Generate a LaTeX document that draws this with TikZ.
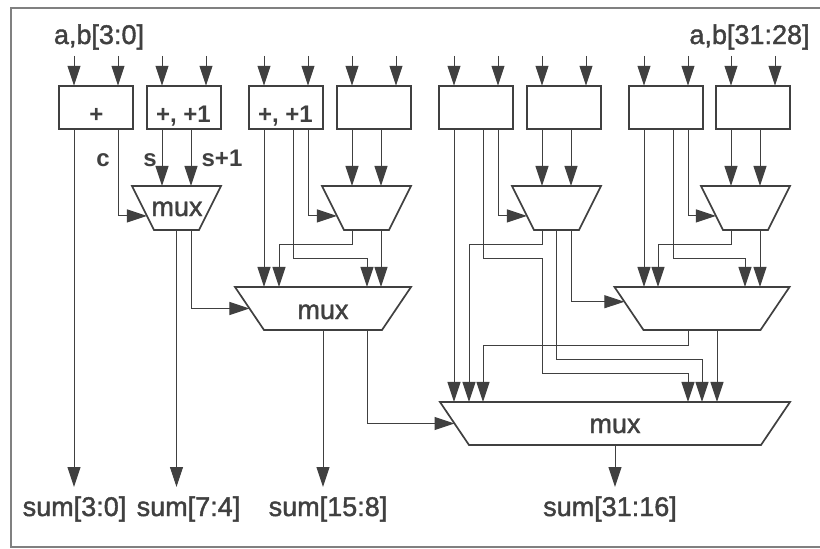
\documentclass[tikz,border=0pt]{standalone}
\usepackage{fontspec}
\setmainfont{Liberation Sans}
\usetikzlibrary{arrows.meta,shapes.geometric}
\definecolor{inkgray}{HTML}{404040}
\tikzset{
	addbox/.style={draw=inkgray,line width=2pt,rectangle,minimum width=74pt,minimum height=43.5pt,inner sep=0pt,outer sep=0pt},
	muxsmall/.style={draw=inkgray,line width=1.7pt,trapezium,shape border rotate=180,trapezium left angle=63.4,trapezium right angle=63.4,text width=45pt,text height=44pt,text depth=0pt,inner sep=0pt,outer sep=0pt},
	muxbig/.style={draw=inkgray,line width=1.7pt,trapezium,shape border rotate=180,trapezium left angle=56,trapezium right angle=56,text height=43pt,text depth=0pt,inner sep=0pt,outer sep=0pt},
	wire/.style={draw=inkgray,line width=1pt,-{Triangle[length=20pt,width=13pt]}},
	lbl/.style={font=\fontsize{27}{27}\selectfont\addfontfeature{FakeBold=1.5},text=inkgray,anchor=base,inner sep=0pt},
	lblsmall/.style={font=\bfseries\fontsize{24}{24}\selectfont,text=inkgray,anchor=base,inner sep=0pt}
}
\begin{document}
\begin{tikzpicture}[x=1pt,y=-1pt]
	\useasboundingbox (0,0) rectangle (820,549);
	\fill[white] (0,0) rectangle (820,549);
	\draw[draw=gray,line width=1.3pt] (820,8) -- (11,8) -- (11,547) -- (820,547);

	\node[lbl] (inlow) at (99,44) {a,b[3:0]};
	\node[lbl] (inhigh) at (749.5,44) {a,b[31:28]};

	\node[addbox] (add1) at (96,107.5) {};
	\node[addbox] (add2) at (184,107.5) {};
	\node[addbox] (add3) at (286,107.5) {};
	\node[addbox] (add4) at (374,107.5) {};
	\node[addbox] (add5) at (476,107.5) {};
	\node[addbox] (add6) at (564,107.5) {};
	\node[addbox] (add7) at (666,107.5) {};
	\node[addbox] (add8) at (753,107.5) {};
	\node[lblsmall] (plus1) at (96.5,122) {+};
	\node[lblsmall] (plus2) at (183.5,122) {+, +1};
	\node[lblsmall] (plus3) at (285.5,122) {+, +1};

	\node[muxsmall] (mux1) at (176.5,208) {};
	\node[muxsmall] (mux2) at (366.5,208) {};
	\node[muxsmall] (mux5) at (556.5,208) {};
	\node[muxsmall] (mux7) at (745.5,208) {};
	\node[muxbig,text width=118pt] (mux3) at (323,308.5) {};
	\node[muxbig,text width=117pt] (mux6) at (702,308.5) {};
	\node[muxbig,text width=292pt] (mux4) at (615,423.5) {};
	\node[lbl] (muxa) at (177,216) {mux};
	\node[lbl] (muxb) at (323,319) {mux};
	\node[lbl] (muxc) at (615,433) {mux};

	\node[lblsmall] (carry) at (103,166) {c};
	\node[lblsmall] (sbit) at (150,166) {s};
	\node[lblsmall] (splus) at (222,166) {s+1};

	\node[lbl] (sum30) at (74.5,516) {sum[3:0]};
	\node[lbl] (sum74) at (188.5,516) {sum[7:4]};
	\node[lbl] (sum158) at (328,516) {sum[15:8]};
	\node[lbl] (sum3116) at (610,516) {sum[31:16]};

	\coordinate (tip30) at (74,487);
	\coordinate (tip74) at (176.5,487);
	\coordinate (tip158) at (323,487);
	\coordinate (tip3116) at (615,487);
	\coordinate (bend1) at (279,244);
	\coordinate (bend2) at (367,258);
	\coordinate (bend3) at (469,244);
	\coordinate (bend4) at (542,258);
	\coordinate (bend5) at (688,373);
	\coordinate (bend6) at (702,359);
	\coordinate (bend7) at (658,244);
	\coordinate (bend8) at (745,258);
	\coordinate (bend9) at (483,345);

	\draw[wire] ([xshift=-22pt,yshift=30pt]add1.north) -- ([xshift=-22pt]add1.north);
	\draw[wire] ([xshift=22pt,yshift=30pt]add1.north) -- ([xshift=22pt]add1.north);
	\draw[wire] ([xshift=-22pt,yshift=30pt]add2.north) -- ([xshift=-22pt]add2.north);
	\draw[wire] ([xshift=22pt,yshift=30pt]add2.north) -- ([xshift=22pt]add2.north);
	\draw[wire] ([xshift=-22pt,yshift=30pt]add3.north) -- ([xshift=-22pt]add3.north);
	\draw[wire] ([xshift=22pt,yshift=30pt]add3.north) -- ([xshift=22pt]add3.north);
	\draw[wire] ([xshift=-22pt,yshift=30pt]add4.north) -- ([xshift=-22pt]add4.north);
	\draw[wire] ([xshift=22pt,yshift=30pt]add4.north) -- ([xshift=22pt]add4.north);
	\draw[wire] ([xshift=-22pt,yshift=30pt]add5.north) -- ([xshift=-22pt]add5.north);
	\draw[wire] ([xshift=22pt,yshift=30pt]add5.north) -- ([xshift=22pt]add5.north);
	\draw[wire] ([xshift=-22pt,yshift=30pt]add6.north) -- ([xshift=-22pt]add6.north);
	\draw[wire] ([xshift=22pt,yshift=30pt]add6.north) -- ([xshift=22pt]add6.north);
	\draw[wire] ([xshift=-22pt,yshift=30pt]add7.north) -- ([xshift=-22pt]add7.north);
	\draw[wire] ([xshift=22pt,yshift=30pt]add7.north) -- ([xshift=22pt]add7.north);
	\draw[wire] ([xshift=-22pt,yshift=30pt]add8.north) -- ([xshift=-22pt]add8.north);
	\draw[wire] ([xshift=22pt,yshift=30pt]add8.north) -- ([xshift=22pt]add8.north);

	\draw[wire] ([xshift=-22pt]add1.south) -- (tip30);
	\draw[wire] ([xshift=22pt]add1.south) |- (mux1.195);
	\draw[wire] ([xshift=-22pt]add2.south) -- ([xshift=-14.5pt]mux1.north);
	\draw[wire] ([xshift=7pt]add2.south) -- ([xshift=14.5pt]mux1.north);
	\draw[wire] (mux1.south) -- (tip74);
	\draw[wire] ([xshift=14.5pt]mux1.south) |- (mux3.west);

	\draw[wire] ([xshift=-22pt]add3.south) -- ([xshift=-59pt]mux3.north);
	\draw[wire] ([xshift=7pt]add3.south) |- (bend2) -- ([xshift=44pt]mux3.north);
	\draw[wire] ([xshift=22pt]add3.south) |- (mux2.195);
	\draw[wire] ([xshift=-22pt]add4.south) -- ([xshift=-14.5pt]mux2.north);
	\draw[wire] ([xshift=7pt]add4.south) -- ([xshift=14.5pt]mux2.north);
	\draw[wire] ([xshift=-14.5pt]mux2.south) |- (bend1) -- ([xshift=-44pt]mux3.north);
	\draw[wire] ([xshift=14.5pt]mux2.south) -- ([xshift=58pt]mux3.north);
	\draw[wire] (mux3.south) -- (tip158);
	\draw[wire] ([xshift=44pt]mux3.south) |- (mux4.west);

	\draw[wire] ([xshift=-22pt]add5.south) -- ([xshift=-161pt]mux4.north);
	\draw[wire] ([xshift=7pt]add5.south) |- (bend4) |- (bend5) -- ([xshift=73pt]mux4.north);
	\draw[wire] ([xshift=22pt]add5.south) |- (mux5.195);
	\draw[wire] ([xshift=-22pt]add6.south) -- ([xshift=-14.5pt]mux5.north);
	\draw[wire] ([xshift=7pt]add6.south) -- ([xshift=14.5pt]mux5.north);
	\draw[wire] ([xshift=-14.5pt]mux5.south) |- (bend3) -- ([xshift=-146pt]mux4.north);
	\draw[wire] (mux5.south) |- (bend6) -- ([xshift=87pt]mux4.north);
	\draw[wire] ([xshift=14.5pt]mux5.south) |- (mux6.175);

	\draw[wire] ([xshift=-22pt]add7.south) -- ([xshift=-58pt]mux6.north);
	\draw[wire] ([xshift=7pt]add7.south) |- (bend8) -- ([xshift=43pt]mux6.north);
	\draw[wire] ([xshift=22pt]add7.south) |- (mux7.195);
	\draw[wire] ([xshift=-22pt]add8.south) -- ([xshift=-14.5pt]mux7.north);
	\draw[wire] ([xshift=7pt]add8.south) -- ([xshift=14.5pt]mux7.north);
	\draw[wire] ([xshift=-14.5pt]mux7.south) |- (bend7) -- ([xshift=-44pt]mux6.north);
	\draw[wire] ([xshift=14.5pt]mux7.south) -- ([xshift=58pt]mux6.north);
	\draw[wire] ([xshift=-14pt]mux6.south) |- (bend9) -- ([xshift=-132pt]mux4.north);
	\draw[wire] ([xshift=15pt]mux6.south) -- ([xshift=102pt]mux4.north);
	\draw[wire] (mux4.south) -- (tip3116);
\end{tikzpicture}
\end{document}
